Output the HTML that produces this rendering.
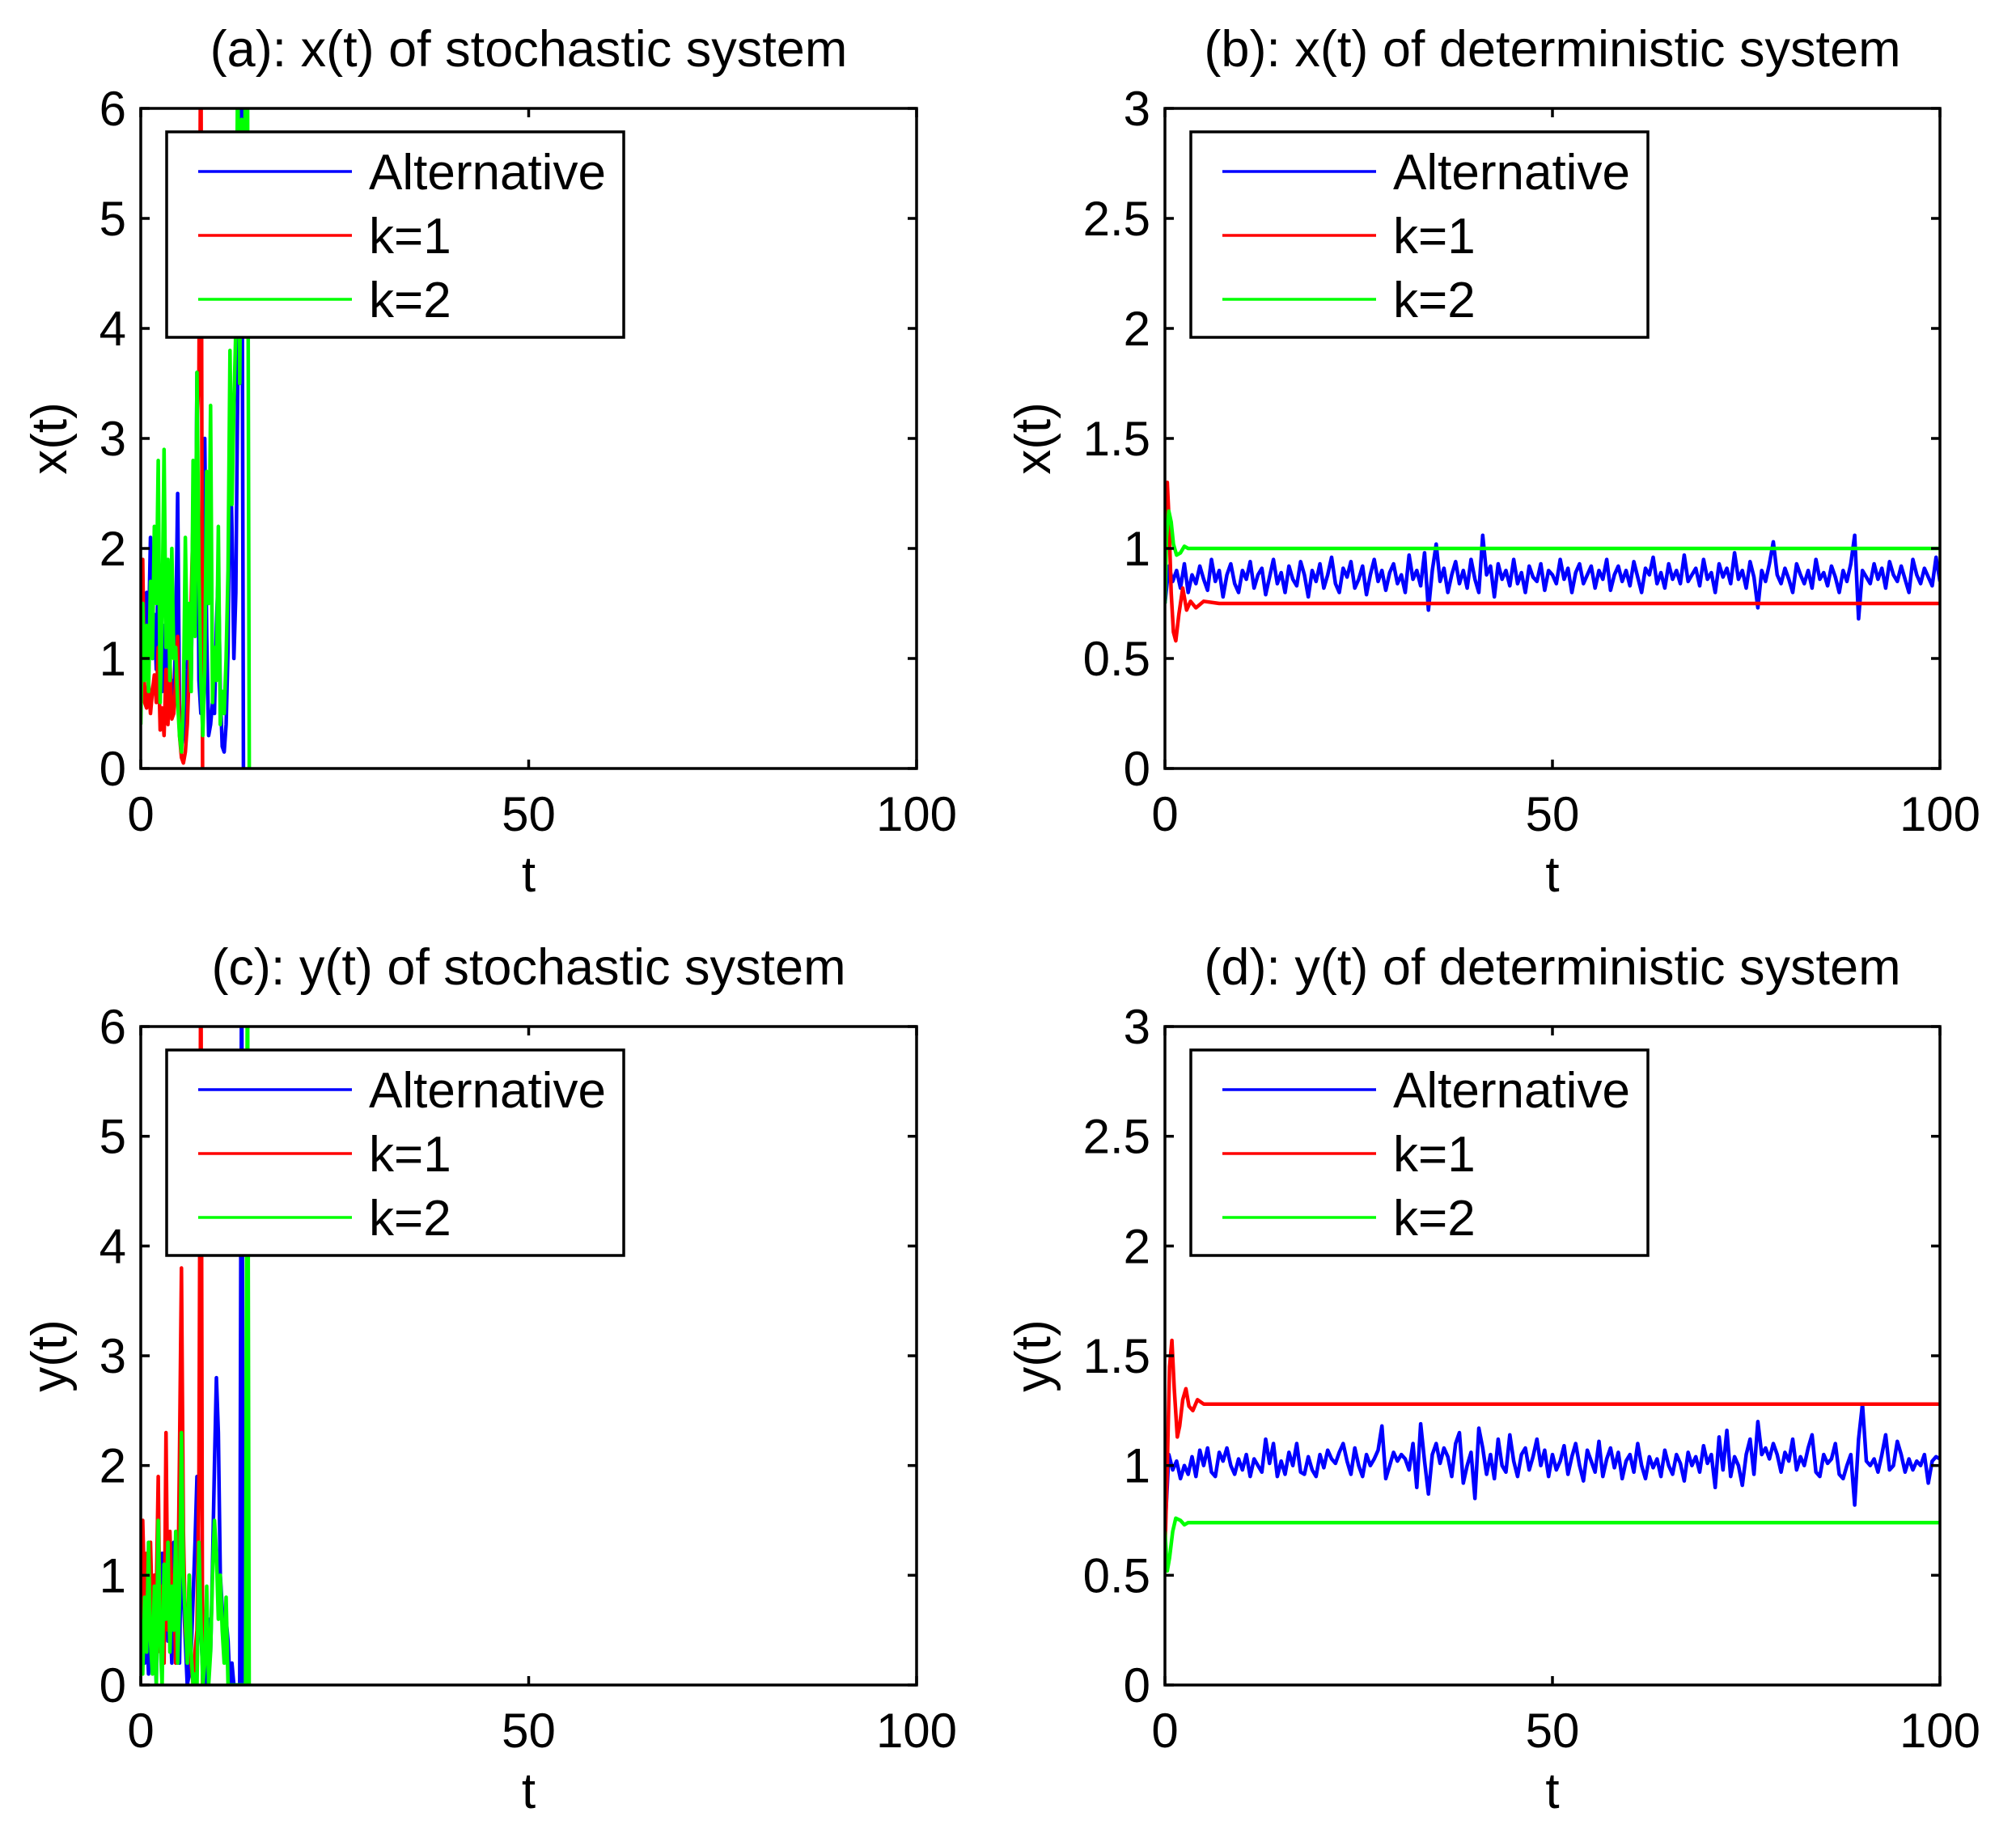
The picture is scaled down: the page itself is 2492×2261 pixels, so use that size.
<!DOCTYPE html>
<html><head><meta charset="utf-8">
<style>
html,body{margin:0;padding:0;background:#fff;}
svg{display:block;font-family:"Liberation Sans",Arial,sans-serif;}
</style></head>
<body>
<svg id="fig" width="2492" height="2261" viewBox="0 0 2492 2261" xmlns="http://www.w3.org/2000/svg"></svg>
<script>
// ---------- data ----------
const legendLabels = ["Alternative","k=1","k=2"];
const xTicks = [0,50,100];
const yTicksStoch = [0,1,2,3,4,5,6];
const yTickLabelsStoch = ["0","1","2","3","4","5","6"];
const yTicksDet = [0,0.5,1,1.5,2,2.5,3];
const yTickLabelsDet = ["0","0.5","1","1.5","2","2.5","3"];
const stochDt = 0.25;
const detDt = 0.5;

// panel (a) x(t) stochastic
const aRed = [1.0,1.9,0.6,0.55,0.8,0.5,0.7,0.85,0.6,1.1,0.35,0.55,0.3,0.9,0.4,1.0,0.45,0.5,0.8,1.2,0.3,0.1,0.05,0.15,0.4,0.9,1.5,2.3,1.9,3.1,3.6,7,-1];
const aBlue = [0.9,1.3,1.0,1.6,1.2,2.1,1.0,1.4,0.9,1.8,1.1,0.7,1.3,0.9,1.1,0.6,0.8,0.6,1.2,2.5,0.5,0.2,0.3,0.6,0.9,1.4,0.8,2.2,1.3,3.6,0.8,0.5,1.9,3.0,1.2,0.3,0.4,0.6,0.5,1.3,1.8,0.7,0.2,0.15,0.4,1.1,3.0,2.2,1.0,1.6,3.5,4.2,6.5,-0.5];
const aGreen = [0.4,1.5,0.8,1.3,0.7,1.7,1.0,2.2,1.5,2.8,0.6,1.4,2.9,1.1,1.9,0.8,2.0,1.0,1.1,0.6,0.3,0.15,0.6,2.1,1.0,1.5,0.7,2.8,1.2,3.6,1.8,0.8,0.3,0.9,2.7,1.5,3.3,0.6,1.1,0.8,2.2,0.4,0.7,0.5,1.0,1.8,3.8,2.4,3.3,4.0,6.5,3.5,5.9,4.0,6.5,6.5,-0.5];
// panel (c) y(t) stochastic
const cRed = [0.3,1.5,0.8,1.2,0.5,1.3,0.6,1.0,0.8,1.9,0.3,0.9,0.2,2.3,0.5,1.4,0.8,1.0,0.2,0.6,2.1,3.8,1.4,0.5,0.3,1.0,0.2,0.0,0.3,0.5,1.9,7,-1];
const cBlue = [0.5,0.8,0.2,0.6,0.1,0.9,0.3,0.6,0.0,1.3,0.8,1.2,0.6,1.0,0.4,0.7,0.2,1.3,0.9,0.6,0.2,1.5,0.8,0.4,0.0,0.1,0.3,0.8,1.3,1.9,1.0,0.5,0.1,0.3,0.0,0.6,0.3,1.1,2.0,2.8,2.3,1.0,0.7,0.3,0.6,0.4,0.0,0.2,0.0,0.0,0.0,0.0,7,-1];
const cGreen = [0.6,0.1,0.8,0.3,1.3,0.4,0.1,0.9,0.0,1.5,0.4,0.0,1.1,0.6,1.3,0.3,0.9,0.5,1.4,0.2,0.8,2.3,1.0,0.6,0.2,1.0,0.3,0.0,0.1,0.0,1.3,0.6,0.0,0.2,0.9,0.0,0.3,1.0,1.5,1.2,0.6,1.0,0.5,0.2,0.8,0.0,0.0,0.0,0.0,0.0,0.0,0.0,0.0,0.0,0.0,7,-1];

// panel (b) x(t) deterministic
const bBlue = [0.75,0.92,0.85,0.90,0.82,0.93,0.80,0.88,0.84,0.92,0.86,0.81,0.95,0.85,0.90,0.78,0.88,0.93,0.84,0.80,
0.90,0.86,0.94,0.82,0.88,0.91,0.79,0.87,0.95,0.84,0.89,0.80,0.92,0.86,0.83,0.94,0.88,0.78,0.90,0.85,
0.93,0.82,0.88,0.96,0.84,0.80,0.91,0.87,0.94,0.82,0.86,0.92,0.79,0.88,0.95,0.85,0.90,0.81,0.89,0.93,
0.84,0.88,0.80,0.97,0.86,0.90,0.83,0.98,0.72,0.90,1.02,0.85,0.91,0.80,0.88,0.94,0.84,0.90,0.82,0.95,
0.86,0.80,1.06,0.88,0.92,0.78,0.93,0.86,0.90,0.83,0.95,0.84,0.89,0.80,0.92,0.87,0.85,0.93,0.81,0.90,
0.88,0.84,0.95,0.86,0.91,0.80,0.89,0.93,0.84,0.88,0.92,0.82,0.90,0.86,0.95,0.81,0.88,0.92,0.85,0.90,
0.83,0.94,0.87,0.80,0.91,0.88,0.96,0.84,0.89,0.82,0.93,0.86,0.90,0.84,0.97,0.85,0.88,0.91,0.83,0.95,
0.86,0.89,0.80,0.93,0.87,0.91,0.84,0.98,0.86,0.90,0.82,0.94,0.87,0.73,0.90,0.85,0.93,1.03,0.88,0.84,
0.91,0.86,0.80,0.93,0.88,0.84,0.90,0.82,0.95,0.86,0.89,0.83,0.92,0.87,0.80,0.90,0.85,0.93,1.06,0.68,
0.90,0.87,0.84,0.93,0.86,0.91,0.82,0.94,0.88,0.85,0.92,0.86,0.80,0.95,0.88,0.84,0.91,0.87,0.83,0.96,0.85];
const bRedT = [0,0.15,0.3,0.5,0.8,1.1,1.4,1.8,2.3,2.8,3.3,4,5,7,100];
const bRedV = [0.8,1.2,1.3,1.15,0.8,0.62,0.58,0.7,0.82,0.72,0.76,0.73,0.76,0.75,0.75];
const bGreenT = [0,0.2,0.5,0.8,1.1,1.5,2,2.5,3,4,100];
const bGreenV = [0.75,1.05,1.17,1.12,1.02,0.97,0.98,1.01,1.0,1.0,1.0];

// panel (d) y(t) deterministic
const dBlue = [0.70,1.05,0.98,1.02,0.94,1.00,0.96,1.04,0.95,1.07,1.00,1.08,0.97,0.95,1.06,1.02,1.08,1.00,0.96,1.03,
0.98,1.05,0.95,1.03,1.00,0.97,1.12,1.01,1.10,0.95,1.02,0.96,1.06,1.00,1.10,0.97,0.96,1.04,0.98,0.95,
1.05,0.99,1.07,1.03,1.01,1.06,1.10,1.02,0.96,1.08,1.00,0.95,1.05,1.00,1.03,1.07,1.18,0.94,1.00,1.06,
1.02,1.05,1.03,0.98,1.10,0.90,1.19,1.02,0.87,1.05,1.10,1.01,1.08,1.04,0.95,1.10,1.15,0.92,1.00,1.06,
0.85,1.17,1.08,0.96,1.05,0.94,1.12,1.00,0.97,1.14,1.02,0.95,1.05,1.08,0.98,1.04,1.12,1.00,1.07,0.95,
1.05,0.98,1.02,1.09,0.96,1.04,1.10,1.00,0.93,1.07,1.02,0.97,1.11,0.95,1.03,1.08,0.99,1.06,0.94,1.02,
1.05,0.97,1.10,1.00,0.94,1.04,0.99,1.03,0.95,1.07,1.00,0.96,1.05,1.01,0.93,1.06,1.00,1.04,0.97,1.09,
1.01,1.05,0.90,1.13,0.98,1.16,0.95,1.04,1.00,0.91,1.05,1.12,0.96,1.20,1.05,1.08,1.03,1.10,1.05,0.97,
1.06,1.02,1.12,0.98,1.04,1.00,1.08,1.14,0.97,0.95,1.05,1.01,1.03,1.10,0.96,0.94,1.00,1.05,0.82,1.12,
1.28,1.02,1.00,1.03,0.97,1.05,1.14,0.98,1.00,1.11,1.05,0.97,1.03,0.98,1.02,1.00,1.05,0.92,1.02,1.04,1.03];
const dRedT = [0,0.3,0.6,0.9,1.2,1.6,1.9,2.3,2.7,3.1,3.6,4.2,5,7,100];
const dRedV = [0.6,1.0,1.45,1.57,1.35,1.13,1.18,1.3,1.35,1.27,1.25,1.3,1.28,1.28,1.28];
const dGreenT = [0,0.3,0.6,1.0,1.4,2,2.5,3,100];
const dGreenV = [0.7,0.52,0.58,0.7,0.76,0.75,0.73,0.74,0.74];

// ---------- drawing ----------
const NS = "http://www.w3.org/2000/svg";
const svg = document.getElementById("fig");
const COLORS = ["#0000ff","#ff0000","#00ff00"];
function mk(tag, attrs, parent){
  const e = document.createElementNS(NS, tag);
  for (const k in attrs) e.setAttribute(k, attrs[k]);
  (parent||svg).appendChild(e);
  return e;
}
function idxT(arr, dt){ return arr.map((v,i)=>i*dt); }

function panel(cfg){
  const g = mk("g", {});
  
  
  const L=cfg.x0, R=cfg.x1, T=cfg.y0, B=cfg.y1;
  const sx = t => L + (t-0)/(100-0)*(R-L);
  const sy = v => B - (v-cfg.ymin)/(cfg.ymax-cfg.ymin)*(B-T);
  const clipId = "clip-"+cfg.name;
  const cp = mk("clipPath", {id:clipId}, g);
  mk("rect", {x:L, y:T, width:R-L, height:B-T}, cp);
  cfg.series.forEach((s,si)=>{
    const d = s.t.map((t,i)=>(i?"L":"M")+sx(t).toFixed(1)+" "+sy(s.v[i]).toFixed(1)).join(" ");
    const p = mk("path", {d:d, fill:"none", stroke:COLORS[si], "stroke-width":4.5, "stroke-linejoin":"round", "clip-path":"url(#"+clipId+")"}, g);
    
    
  });
  const fr = mk("rect", {x:L, y:T, width:R-L, height:B-T, fill:"none", stroke:"#000", "stroke-width":3.5}, g);
  
  
  xTicks.forEach(t=>{
    const x = sx(t);
    mk("line",{x1:x,y1:B,x2:x,y2:B-11,stroke:"#000","stroke-width":3.5},g);
    mk("line",{x1:x,y1:T,x2:x,y2:T+11,stroke:"#000","stroke-width":3.5},g);
    const tx = mk("text",{x:x,y:B+77,"font-size":60,"text-anchor":"middle",fill:"#000"},g);
    tx.textContent = String(t);
    
    
  });
  cfg.yt.forEach((v,i)=>{
    const y = sy(v);
    mk("line",{x1:L,y1:y,x2:L+11,y2:y,stroke:"#000","stroke-width":3.5},g);
    mk("line",{x1:R,y1:y,x2:R-11,y2:y,stroke:"#000","stroke-width":3.5},g);
    const tx = mk("text",{x:L-18,y:y+21,"font-size":60,"text-anchor":"end",fill:"#000"},g);
    tx.textContent = cfg.ytl[i];
    
    
  });
  const ti = mk("text",{x:(L+R)/2,y:T-52,"font-size":63,"text-anchor":"middle",fill:"#000"},g);
  ti.textContent = cfg.title;
  
  
  const xl = mk("text",{x:(L+R)/2,y:B+152,"font-size":62,"text-anchor":"middle",fill:"#000"},g);
  xl.textContent = "t";
  
  
  const yc = (T+B)/2, ylx = L-cfg.ylOff;
  const yl = mk("text",{x:ylx,y:yc,"font-size":62,"text-anchor":"middle",transform:"rotate(-90 "+ylx+" "+yc+")",fill:"#000"},g);
  yl.textContent = cfg.ylabel;
  
  
  const lg = mk("g",{},g);
  
  
  const lx = L+32, ly = T+29;
  mk("rect",{x:lx,y:ly,width:565,height:254,fill:"#fff",stroke:"#000","stroke-width":3.5},lg);
  legendLabels.forEach((lab,i)=>{
    const yy = ly+49+i*79;
    mk("line",{x1:lx+39,y1:yy,x2:lx+229,y2:yy,stroke:COLORS[i],"stroke-width":3.5},lg);
    const lt = mk("text",{x:lx+250,y:yy+22,"font-size":62,fill:"#000"},lg);
    lt.textContent = lab;
    
    
  });
}

const Lx = [174, 1440], Rx = [1133, 2398], Ty = [134, 1269], By = [950, 2083];
panel({name:"panel-a", x0:Lx[0], x1:Rx[0], y0:Ty[0], y1:By[0], ymin:0, ymax:6, yt:yTicksStoch, ytl:yTickLabelsStoch, ylOff:92,
  title:"(a): x(t) of stochastic system", ylabel:"x(t)",
  series:[{t:idxT(aBlue,stochDt),v:aBlue},{t:idxT(aRed,stochDt),v:aRed},{t:idxT(aGreen,stochDt),v:aGreen}]});
panel({name:"panel-b", x0:Lx[1], x1:Rx[1], y0:Ty[0], y1:By[0], ymin:0, ymax:3, yt:yTicksDet, ytl:yTickLabelsDet, ylOff:142,
  title:"(b): x(t) of deterministic system", ylabel:"x(t)",
  series:[{t:idxT(bBlue,detDt),v:bBlue},{t:bRedT,v:bRedV},{t:bGreenT,v:bGreenV}]});
panel({name:"panel-c", x0:Lx[0], x1:Rx[0], y0:Ty[1], y1:By[1], ymin:0, ymax:6, yt:yTicksStoch, ytl:yTickLabelsStoch, ylOff:92,
  title:"(c): y(t) of stochastic system", ylabel:"y(t)",
  series:[{t:idxT(cBlue,stochDt),v:cBlue},{t:idxT(cRed,stochDt),v:cRed},{t:idxT(cGreen,stochDt),v:cGreen}]});
panel({name:"panel-d", x0:Lx[1], x1:Rx[1], y0:Ty[1], y1:By[1], ymin:0, ymax:3, yt:yTicksDet, ytl:yTickLabelsDet, ylOff:142,
  title:"(d): y(t) of deterministic system", ylabel:"y(t)",
  series:[{t:idxT(dBlue,detDt),v:dBlue},{t:dRedT,v:dRedV},{t:dGreenT,v:dGreenV}]});
</script>
</body></html>
